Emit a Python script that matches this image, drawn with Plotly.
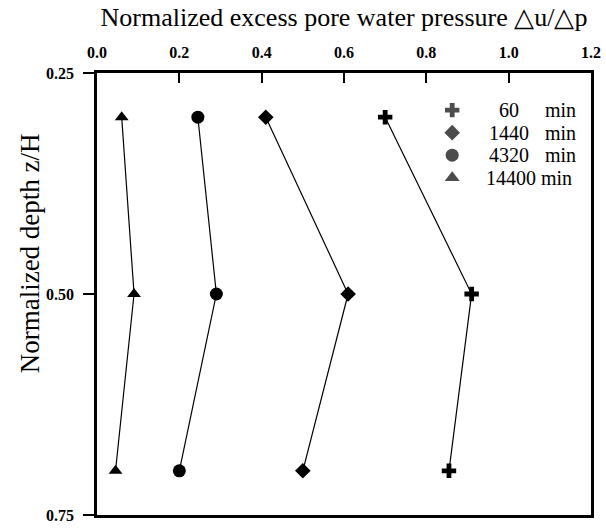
import plotly.graph_objects as go

depth = [0.30, 0.50, 0.70]
series_names = ["60", "1440", "4320", "14400"]
pressure_60 = [0.70, 0.91, 0.855]
pressure_1440 = [0.41, 0.61, 0.50]
pressure_4320 = [0.245, 0.29, 0.20]
pressure_14400 = [0.06, 0.09, 0.045]
symbols = ["cross", "diamond", "circle", "triangle-up"]
sizes = [12, 12, 13, 12]
x_ticks = [0.0, 0.2, 0.4, 0.6, 0.8, 1.0, 1.2]
y_ticks = [0.25, 0.50, 0.75]

values = [pressure_60, pressure_1440, pressure_4320, pressure_14400]

SERIF = "Liberation Serif, Times New Roman, serif"
fig = go.Figure()
for name, vals, sym, sz in zip(series_names, values, symbols, sizes):
    fig.add_trace(go.Scatter(
        x=vals, y=depth, mode="lines+markers", name=name + " min",
        line=dict(color="black", width=1.2),
        marker=dict(symbol=sym, size=sz, color="black", line=dict(width=0)),
        showlegend=False,
    ))

# legend (manual, drawn on an overlay axis in 0..1 units)
leg_x = 0.719
leg_y = [0.916, 0.865, 0.814, 0.763]
fig.add_trace(go.Scatter(
    x=[leg_x] * 4, y=leg_y, mode="markers", xaxis="x2", yaxis="y2",
    marker=dict(symbol=symbols, size=[12, 12, 13, 13], color="black", line=dict(width=0)),
    showlegend=False, hoverinfo="skip",
))
LEG_FONT = dict(family=SERIF, size=20, color="black")
annotations = []
for name, yy in zip(series_names, leg_y):
    if len(name) < 5:
        annotations.append(dict(x=0.833, y=yy, xref="paper", yref="paper", text=name,
                                showarrow=False, xanchor="center", yanchor="middle",
                                font=LEG_FONT))
        annotations.append(dict(x=0.902, y=yy, xref="paper", yref="paper", text="min",
                                showarrow=False, xanchor="left", yanchor="middle",
                                font=LEG_FONT))
    else:
        annotations.append(dict(x=0.966, y=yy, xref="paper", yref="paper", text=name + " min",
                                showarrow=False, xanchor="right", yanchor="middle",
                                font=LEG_FONT))

# y-axis title as an annotation to match its placement
annotations.append(dict(x=0, y=0.592, xref="paper", yref="paper", xshift=-67,
                        text="Normalized depth z/H", textangle=-90, showarrow=False,
                        xanchor="center", yanchor="middle",
                        font=dict(family=SERIF, size=27, color="black")))

fig.update_layout(
    width=606, height=529,
    margin=dict(l=97, r=15, t=73, b=5),
    paper_bgcolor="white", plot_bgcolor="white",
    annotations=annotations,
    title=dict(text="Normalized excess pore water pressure \u25b3u/\u25b3p",
               font=dict(family=SERIF, size=26, color="black"),
               xref="paper", x=0.5, xanchor="center",
               yref="container", y=1 - 17 / 529, yanchor="middle"),
    xaxis=dict(
        side="top", range=[0, 1.2], tickvals=x_ticks, tickformat=".1f",
        ticks="inside", ticklen=10, tickwidth=2, tickcolor="black",
        ticklabelstandoff=6, ticklabeloverflow="allow",
        showline=True, linecolor="black", linewidth=2.5, mirror=True,
        showgrid=False, zeroline=False,
        tickfont=dict(family=SERIF, size=16, color="black", weight="bold"),
    ),
    yaxis=dict(
        range=[0.75, 0.25], tickvals=y_ticks, tickformat=".2f",
        ticks="outside", ticklen=11, tickwidth=2, tickcolor="black",
        ticklabelstandoff=6, ticklabeloverflow="allow",
        showline=True, linecolor="black", linewidth=2.5, mirror=True,
        showgrid=False, zeroline=False,
        tickfont=dict(family=SERIF, size=16, color="black", weight="bold"),
    ),
    xaxis2=dict(overlaying="x", range=[0, 1], visible=False),
    yaxis2=dict(overlaying="y", range=[0, 1], visible=False),
)

fig.write_html("out.html")
